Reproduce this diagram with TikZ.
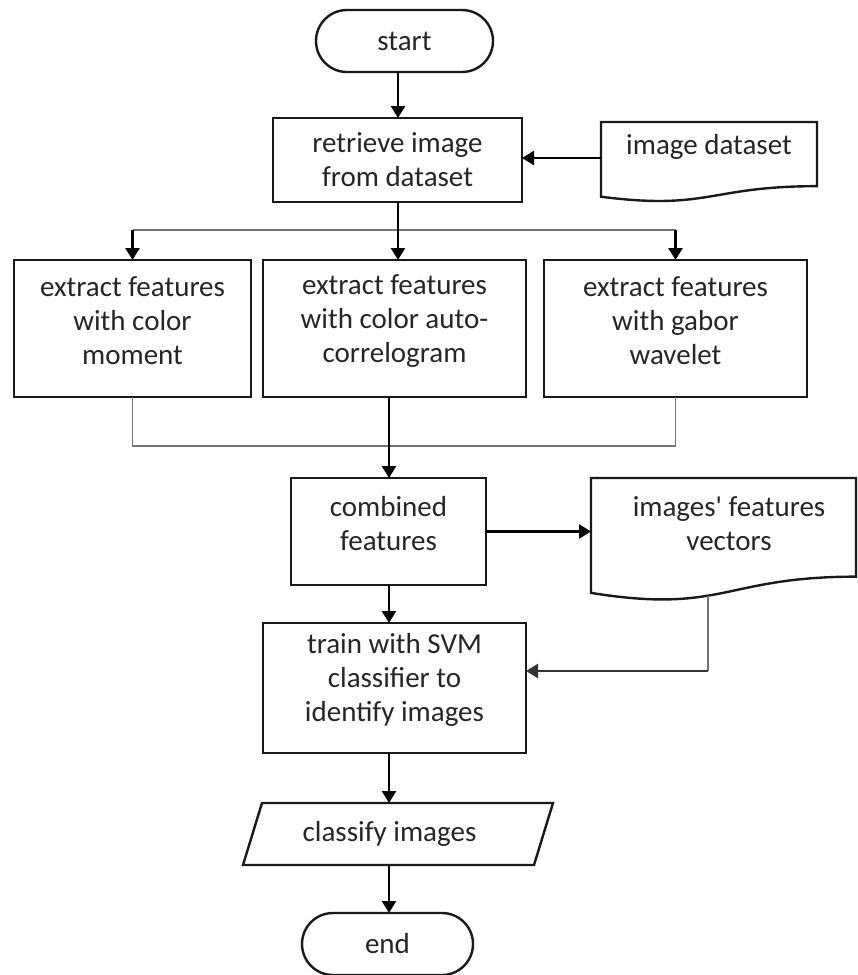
\documentclass[tikz,border=0pt]{standalone}
\usepackage{fontspec}
\setmainfont{Carlito}
\usetikzlibrary{arrows.meta,calc}

% outline of a flowchart "document" symbol laid over a placeholder node
\newcommand{\docoutline}[1]{%
  \draw[shapeline, fill=white] (#1.north west) -- (#1.north east)
    -- ($(#1.north east)!0.802!(#1.south east)$)
    .. controls ($(#1.north)!0.802!(#1.south)$) and ($(#1.north)!1.1075!(#1.south)$)
    .. ($(#1.north west)!0.934!(#1.south west)$) -- cycle;}

\begin{document}
\begin{tikzpicture}[x=1pt, y=-1pt,
  every node/.style={inner sep=0pt, outer sep=0pt},
  shapeline/.style={draw=black!90, line width=2.4pt},
  procbox/.style={shapeline, rectangle, fill=white},
  termbox/.style={shapeline, rectangle, rounded corners=31pt, fill=white},
  txt/.style={font=\fontsize{29}{34}\selectfont, text=black!85, align=center},
  arr/.style={draw=black, line width=2.4pt, -{Triangle[length=12pt, width=14pt]}},
  fineline/.style={draw=black!55, line width=1.3pt},
]
\useasboundingbox (0,0) rectangle (858,975);

% ---- shapes ----
\node[termbox, minimum width=177pt, minimum height=62pt, txt] (start) at (404.5,41) {start};

\node[procbox, minimum width=249pt, minimum height=84pt, txt] (retrieve) at (397.5,160)
  {retrieve image\\from dataset};

\node[minimum width=216pt, minimum height=80pt] (dset) at (709,162) {};
\docoutline{dset}
\node[txt] (dsetT) at (709,147) {image dataset};

\node[procbox, minimum width=237pt, minimum height=137pt] (exA) at (132.5,328.5) {};
\node[procbox, minimum width=263pt, minimum height=137pt] (exB) at (394.5,328.5) {};
\node[procbox, minimum width=263pt, minimum height=137pt] (exC) at (675.5,328.5) {};
\node[txt] (exAT) at (132.5,321) {extract features\\with color\\moment};
\node[txt] (exBT) at (394.5,321) {extract features\\with color auto-\\correlogram};
\node[txt] (exCT) at (675.5,321) {extract features\\with gabor\\wavelet};

\node[procbox, minimum width=195pt, minimum height=107pt] (comb) at (388.5,531.5) {};
\node[txt] (combT) at (388.5,524) {combined\\features};

\node[minimum width=265pt, minimum height=123pt] (vec) at (723.5,539.5) {};
\docoutline{vec}
\node[txt] (vecT) at (729,524) {images\textquotesingle\ features\\vectors};

\node[procbox, minimum width=263pt, minimum height=130pt] (train) at (394.5,688) {};
\node[txt] (trainT) at (394.5,680) {train with SVM\\classifier to\\identify images};

\node[minimum width=310pt, minimum height=62pt] (classify) at (398,834) {};
\draw[shapeline, fill=white] ($(classify.north west)+(19,0)$) -- (classify.north east)
  -- ($(classify.south east)+(-19,0)$) -- (classify.south west) -- cycle;
\node[txt] (classifyT) at (389.5,834) {classify images};

\node[termbox, minimum width=171pt, minimum height=62pt, txt] (stop) at (387.5,944) {end};

% ---- connectors ----
\coordinate (colA) at (398,0);
\coordinate (colB) at (389,0);
\coordinate (fork) at (398,230);
\coordinate (merge) at (389,446);
\coordinate (dsin) at ([yshift=4pt]dset.west);
\coordinate (fbtop) at (708,596);
\coordinate (fbturn) at (708,671);

\draw[arr] (start.south -| colA) -- (retrieve.north -| colA);
\draw[arr] (dsin) -- (dsin -| retrieve.east);

\draw[fineline] (exA.north |- fork) -- (exC.north |- fork);
\draw[arr] (retrieve.south -| colA) -- (exB.north -| colA);
\draw[arr] (exA.north |- fork) -- (exA.north);
\draw[arr] (exC.north |- fork) -- (exC.north);

\draw[fineline] (exA.south) -- (exA.south |- merge) -- (exC.south |- merge) -- (exC.south);
\draw[arr] (exB.south -| colB) -- (comb.north -| colB);

\draw[arr] (comb.east) -- (comb.east -| vec.west);
\draw[arr] (comb.south -| colB) -- (train.north -| colB);

\draw[fineline] (fbtop) -- (fbturn);
\draw[arr, draw=black!80] (fbturn) -- (fbturn -| train.east);

\draw[arr] (train.south -| colB) -- (classify.north -| colB);
\draw[arr] (classify.south -| colB) -- (stop.north -| colB);
\end{tikzpicture}
\end{document}
